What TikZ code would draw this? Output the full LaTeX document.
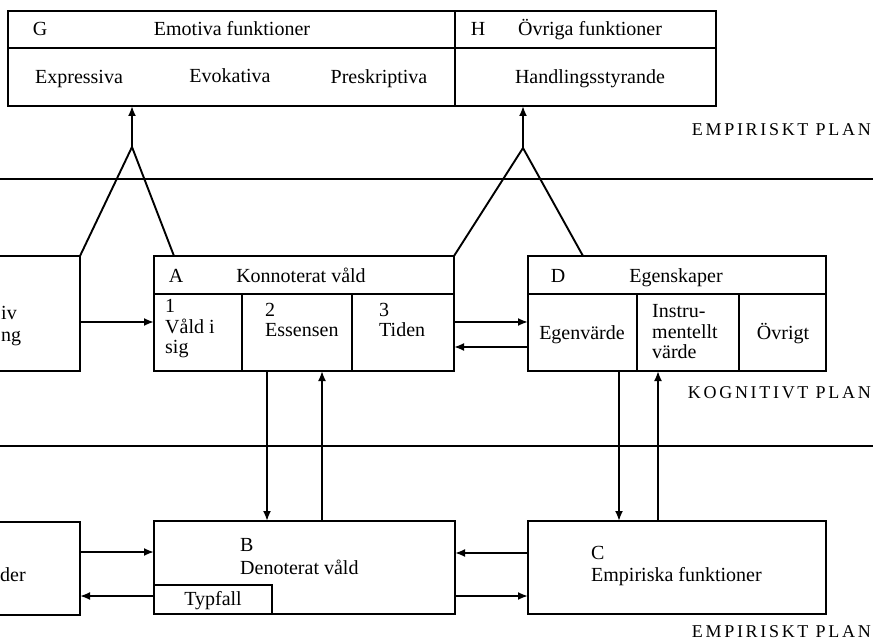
\documentclass[tikz,border=0pt]{standalone}
\usepackage{fontspec}
\setmainfont{Liberation Serif}
\newfontfamily\capsfont[LetterSpace=15]{Liberation Serif}
\usetikzlibrary{arrows.meta}
\tikzset{
  box/.style={draw, line width=1.9pt, rectangle, anchor=north west, inner sep=0pt, outer sep=0pt},
  ln/.style={line width=1.9pt},
  arr/.style={line width=1.9pt, -{Latex[length=10pt,width=8pt]}},
  txt/.style={inner sep=0pt, text height=14pt, text depth=1pt, font=\fontsize{20}{21}\selectfont},
  mtxt/.style={inner sep=0pt, align=left, font=\fontsize{20}{20.5}\selectfont},
  plan/.style={inner sep=0pt, anchor=east, text height=13pt, text depth=0pt, font=\fontsize{18}{19}\capsfont}
}
\begin{document}
\begin{tikzpicture}[x=1pt,y=-1pt]
\useasboundingbox (0,0) rectangle (873,644);
\clip (0,0) rectangle (873,644);
% plane lines
\coordinate (p1l) at (0,179); \coordinate (p1r) at (873,179);
\coordinate (p2l) at (0,446); \coordinate (p2r) at (873,446);
\draw[ln] (p1l) -- (p1r);
\draw[ln] (p2l) -- (p2r);
% top boxes
\node[box, minimum width=447pt, minimum height=95pt] (G) at (8,11) {};
\node[box, minimum width=261pt, minimum height=95pt] (H) at (455,11) {};
\draw[ln] (8,48) -- (716,48);
\node[txt] (Gl) at (40,29) {G};
\node[txt] (Gt) at (232,29) {Emotiva funktioner};
\node[txt] (G1) at (79,77) {Expressiva};
\node[txt] (G2) at (230,76) {Evokativa};
\node[txt] (G3) at (379,77) {Preskriptiva};
\node[txt] (Hl) at (478,29) {H};
\node[txt] (Ht) at (590,29) {Övriga funktioner};
\node[txt] (H1) at (590,77) {Handlingsstyrande};
% middle boxes
\node[box, minimum width=140pt, minimum height=115pt] (L1) at (-60,256) {};
\node[txt, anchor=west] (L1a) at (1,313) {iv};
\node[txt, anchor=west] (L1b) at (1,335) {ng};
\node[box, minimum width=300pt, minimum height=115pt] (A) at (154,256) {};
\draw[ln] (154,294) -- (454,294);
\draw[ln] (242,294) -- (242,371);
\draw[ln] (352,294) -- (352,371);
\node[txt] (Al) at (176,276) {A};
\node[txt] (At) at (301,276) {Konnoterat våld};
\node[mtxt, anchor=west] (A1) at (165,329) {1\\Våld i\\sig};
\node[mtxt, anchor=west] (A2) at (265,320) {2\\Essensen};
\node[mtxt, anchor=west] (A3) at (379,320) {3\\Tiden};
\node[box, minimum width=298pt, minimum height=115pt] (D) at (528,256) {};
\draw[ln] (528,294) -- (826,294);
\draw[ln] (637,294) -- (637,371);
\draw[ln] (739,294) -- (739,371);
\node[txt] (Dl) at (558,276) {D};
\node[txt] (Dt) at (676,276) {Egenskaper};
\node[txt] (D1) at (582,333) {Egenvärde};
\node[mtxt, anchor=west] (D2) at (652,332) {Instru-\\mentellt\\värde};
\node[txt] (D3) at (783,333) {Övrigt};
% bottom boxes
\node[box, minimum width=140pt, minimum height=93pt] (L2) at (-60,522) {};
\node[txt, anchor=west] (L2a) at (0,575) {der};
\node[box, minimum width=301pt, minimum height=93pt] (B) at (154,521) {};
\node[box, minimum width=118pt, minimum height=29pt] (T) at (154,585) {};
\node[txt] (Tt) at (213,599) {Typfall};
\node[txt, anchor=west] (Bl) at (240,545) {B};
\node[txt, anchor=west] (Bt) at (240,568) {Denoterat våld};
\node[box, minimum width=298pt, minimum height=93pt] (C) at (528,521) {};
\node[txt, anchor=west] (Cl) at (591,553) {C};
\node[txt, anchor=west] (Ct) at (591,575) {Empiriska funktioner};
% apex connectors
\coordinate (ga) at (132,147);
\coordinate (ha) at (523,148);
\draw[ln, line join=miter] (L1.north east) -- (ga) -- (A.north west -| 174,0);
\draw[arr] (ga) -- (ga |- G.south);
\draw[ln, line join=miter] (A.north east) -- (ha) -- (D.north west -| 583,0);
\draw[arr] (ha) -- (ha |- H.south);
% horizontal arrows
\draw[arr] (L1.east |- 0,322) -- (A.west |- 0,322);
\draw[arr] (A.east |- 0,322) -- (D.west |- 0,322);
\draw[arr] (D.west |- 0,347) -- (A.east |- 0,347);
\draw[arr] (L2.east |- 0,552) -- (B.west |- 0,552);
\draw[arr] (B.west |- 0,596) -- (L2.east |- 0,596);
\draw[arr] (C.west |- 0,553) -- (B.east |- 0,553);
\draw[arr] (B.east |- 0,596) -- (C.west |- 0,596);
% vertical arrows
\draw[arr] (A.south -| 267,0) -- (B.north -| 267,0);
\draw[arr] (B.north -| 322,0) -- (A.south -| 322,0);
\draw[arr] (D.south -| 619,0) -- (C.north -| 619,0);
\draw[arr] (C.north -| 658,0) -- (D.south -| 658,0);
% plane labels
\node[plan] (P1) at (871,129) {EMPIRISKT PLAN};
\node[plan] (P2) at (871,392) {KOGNITIVT PLAN};
\node[plan] (P3) at (871,631) {EMPIRISKT PLAN};
\end{tikzpicture}
\end{document}
